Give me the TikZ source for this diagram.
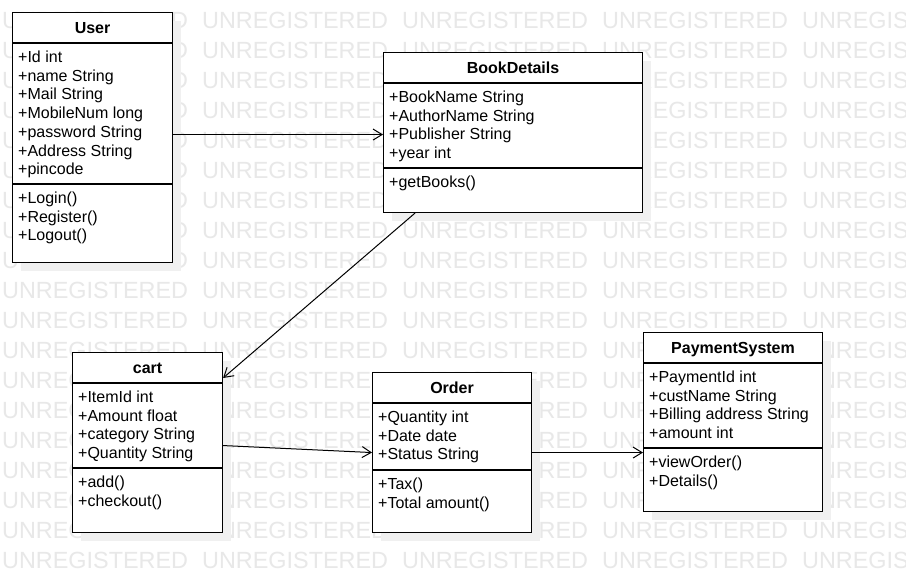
\documentclass[tikz,border=0pt]{standalone}
\usepackage{fontspec}
\setmainfont{Liberation Sans}
\usetikzlibrary{arrows.meta}
\usetikzlibrary{shadows}

\tikzset{
	watermark/.style={text=black!9, font=\fontsize{23.4pt}{28pt}\selectfont, inner sep=0pt, anchor=west},
	classbox/.style={draw, line width=1.1pt, fill=white, inner sep=0pt, anchor=north west,
		drop shadow={shadow xshift=8pt, shadow yshift=-8pt, fill=black!6, opacity=1}},
	classname/.style={font=\bfseries\fontsize{16pt}{18.7pt}\selectfont, inner sep=0pt, anchor=base},
	% base west is the baseline of the last line
	members/.style={font=\fontsize{16pt}{18.7pt}\selectfont, align=left, inner sep=0pt, anchor=base west},
	divider/.style={line width=1.1pt},
	assoc/.style={line width=1pt, -{Straight Barb[length=9pt,width=11pt]}},
}

\begin{document}
\begin{tikzpicture}[x=1pt,y=-1pt]
	\useasboundingbox (0,0) rectangle (906,582);
	\fill[white] (0,0) rectangle (906,582);
	%% watermark
	\foreach \r in {0,...,18}{
		\foreach \c in {0,...,4}{
			\node[watermark] (wm-\r-\c) at ({2+200*\c},{20+30*\r}) {UNREGISTERED};
		}
	}
	%% User
	\node[classbox, minimum width=160pt, minimum height=250pt] (user) at (12,12) {};
	\node[classname] (usertitle) at ([yshift=-21pt]user.north) {User};
	\draw[divider] ([yshift=-31pt]user.north west) -- ([yshift=-31pt]user.north east);
	\node[members] (userattr) at ([shift={(6pt,-162.7pt)}]user.north west)
		{+Id int\\+name String\\+Mail String\\+MobileNum long\\+password String\\+Address String\\+pincode};
	\draw[divider] ([yshift=-172pt]user.north west) -- ([yshift=-172pt]user.north east);
	\node[members] (usermeth) at ([shift={(6pt,-228.9pt)}]user.north west)
		{+Login()\\+Register()\\+Logout()};
	%% BookDetails
	\node[classbox, minimum width=259pt, minimum height=160pt] (book) at (383,52) {};
	\node[classname] (booktitle) at ([yshift=-21pt]book.north) {BookDetails};
	\draw[divider] ([yshift=-31pt]book.north west) -- ([yshift=-31pt]book.north east);
	\node[members] (bookattr) at ([shift={(6pt,-106.6pt)}]book.north west)
		{+BookName String\\+AuthorName String\\+Publisher String\\+year int};
	\draw[divider] ([yshift=-116pt]book.north west) -- ([yshift=-116pt]book.north east);
	\node[members] (bookmeth) at ([shift={(6pt,-135.5pt)}]book.north west) {+getBooks()};
	%% cart
	\node[classbox, minimum width=150pt, minimum height=180pt] (cart) at (72,352) {};
	\node[classname] (carttitle) at ([yshift=-21pt]cart.north) {cart};
	\draw[divider] ([yshift=-31pt]cart.north west) -- ([yshift=-31pt]cart.north east);
	\node[members] (cartattr) at ([shift={(6pt,-106.6pt)}]cart.north west)
		{+ItemId int\\+Amount float\\+category String\\+Quantity String};
	\draw[divider] ([yshift=-116pt]cart.north west) -- ([yshift=-116pt]cart.north east);
	\node[members] (cartmeth) at ([shift={(6pt,-154.2pt)}]cart.north west) {+add()\\+checkout()};
	%% Order
	\node[classbox, minimum width=159pt, minimum height=160pt] (order) at (372,372) {};
	\node[classname] (ordertitle) at ([yshift=-21pt]order.north) {Order};
	\draw[divider] ([yshift=-31pt]order.north west) -- ([yshift=-31pt]order.north east);
	\node[members] (orderattr) at ([shift={(6pt,-87.9pt)}]order.north west)
		{+Quantity int\\+Date date\\+Status String};
	\draw[divider] ([yshift=-98pt]order.north west) -- ([yshift=-98pt]order.north east);
	\node[members] (ordermeth) at ([shift={(6pt,-136.2pt)}]order.north west) {+Tax()\\+Total amount()};
	%% PaymentSystem
	\node[classbox, minimum width=179pt, minimum height=179pt] (pay) at (643,332) {};
	\node[classname] (paytitle) at ([yshift=-21pt]pay.north) {PaymentSystem};
	\draw[divider] ([yshift=-31pt]pay.north west) -- ([yshift=-31pt]pay.north east);
	\node[members] (payattr) at ([shift={(6pt,-106.6pt)}]pay.north west)
		{+PaymentId int\\+custName String\\+Billing address String\\+amount int};
	\draw[divider] ([yshift=-116pt]pay.north west) -- ([yshift=-116pt]pay.north east);
	\node[members] (paymeth) at ([shift={(6pt,-154.2pt)}]pay.north west) {+viewOrder()\\+Details()};
	% associations
	\draw[assoc] ([yshift=3pt]user.east) -- ([yshift=-2pt]book.west);
	\draw[assoc] ([xshift=32pt]book.south west) -- ([yshift=-26pt]cart.north east);
	\draw[assoc] ([yshift=-3pt]cart.east) -- (order.west);
	\draw[assoc] (order.east) -- (order.east -| pay.west);
\end{tikzpicture}
\end{document}
